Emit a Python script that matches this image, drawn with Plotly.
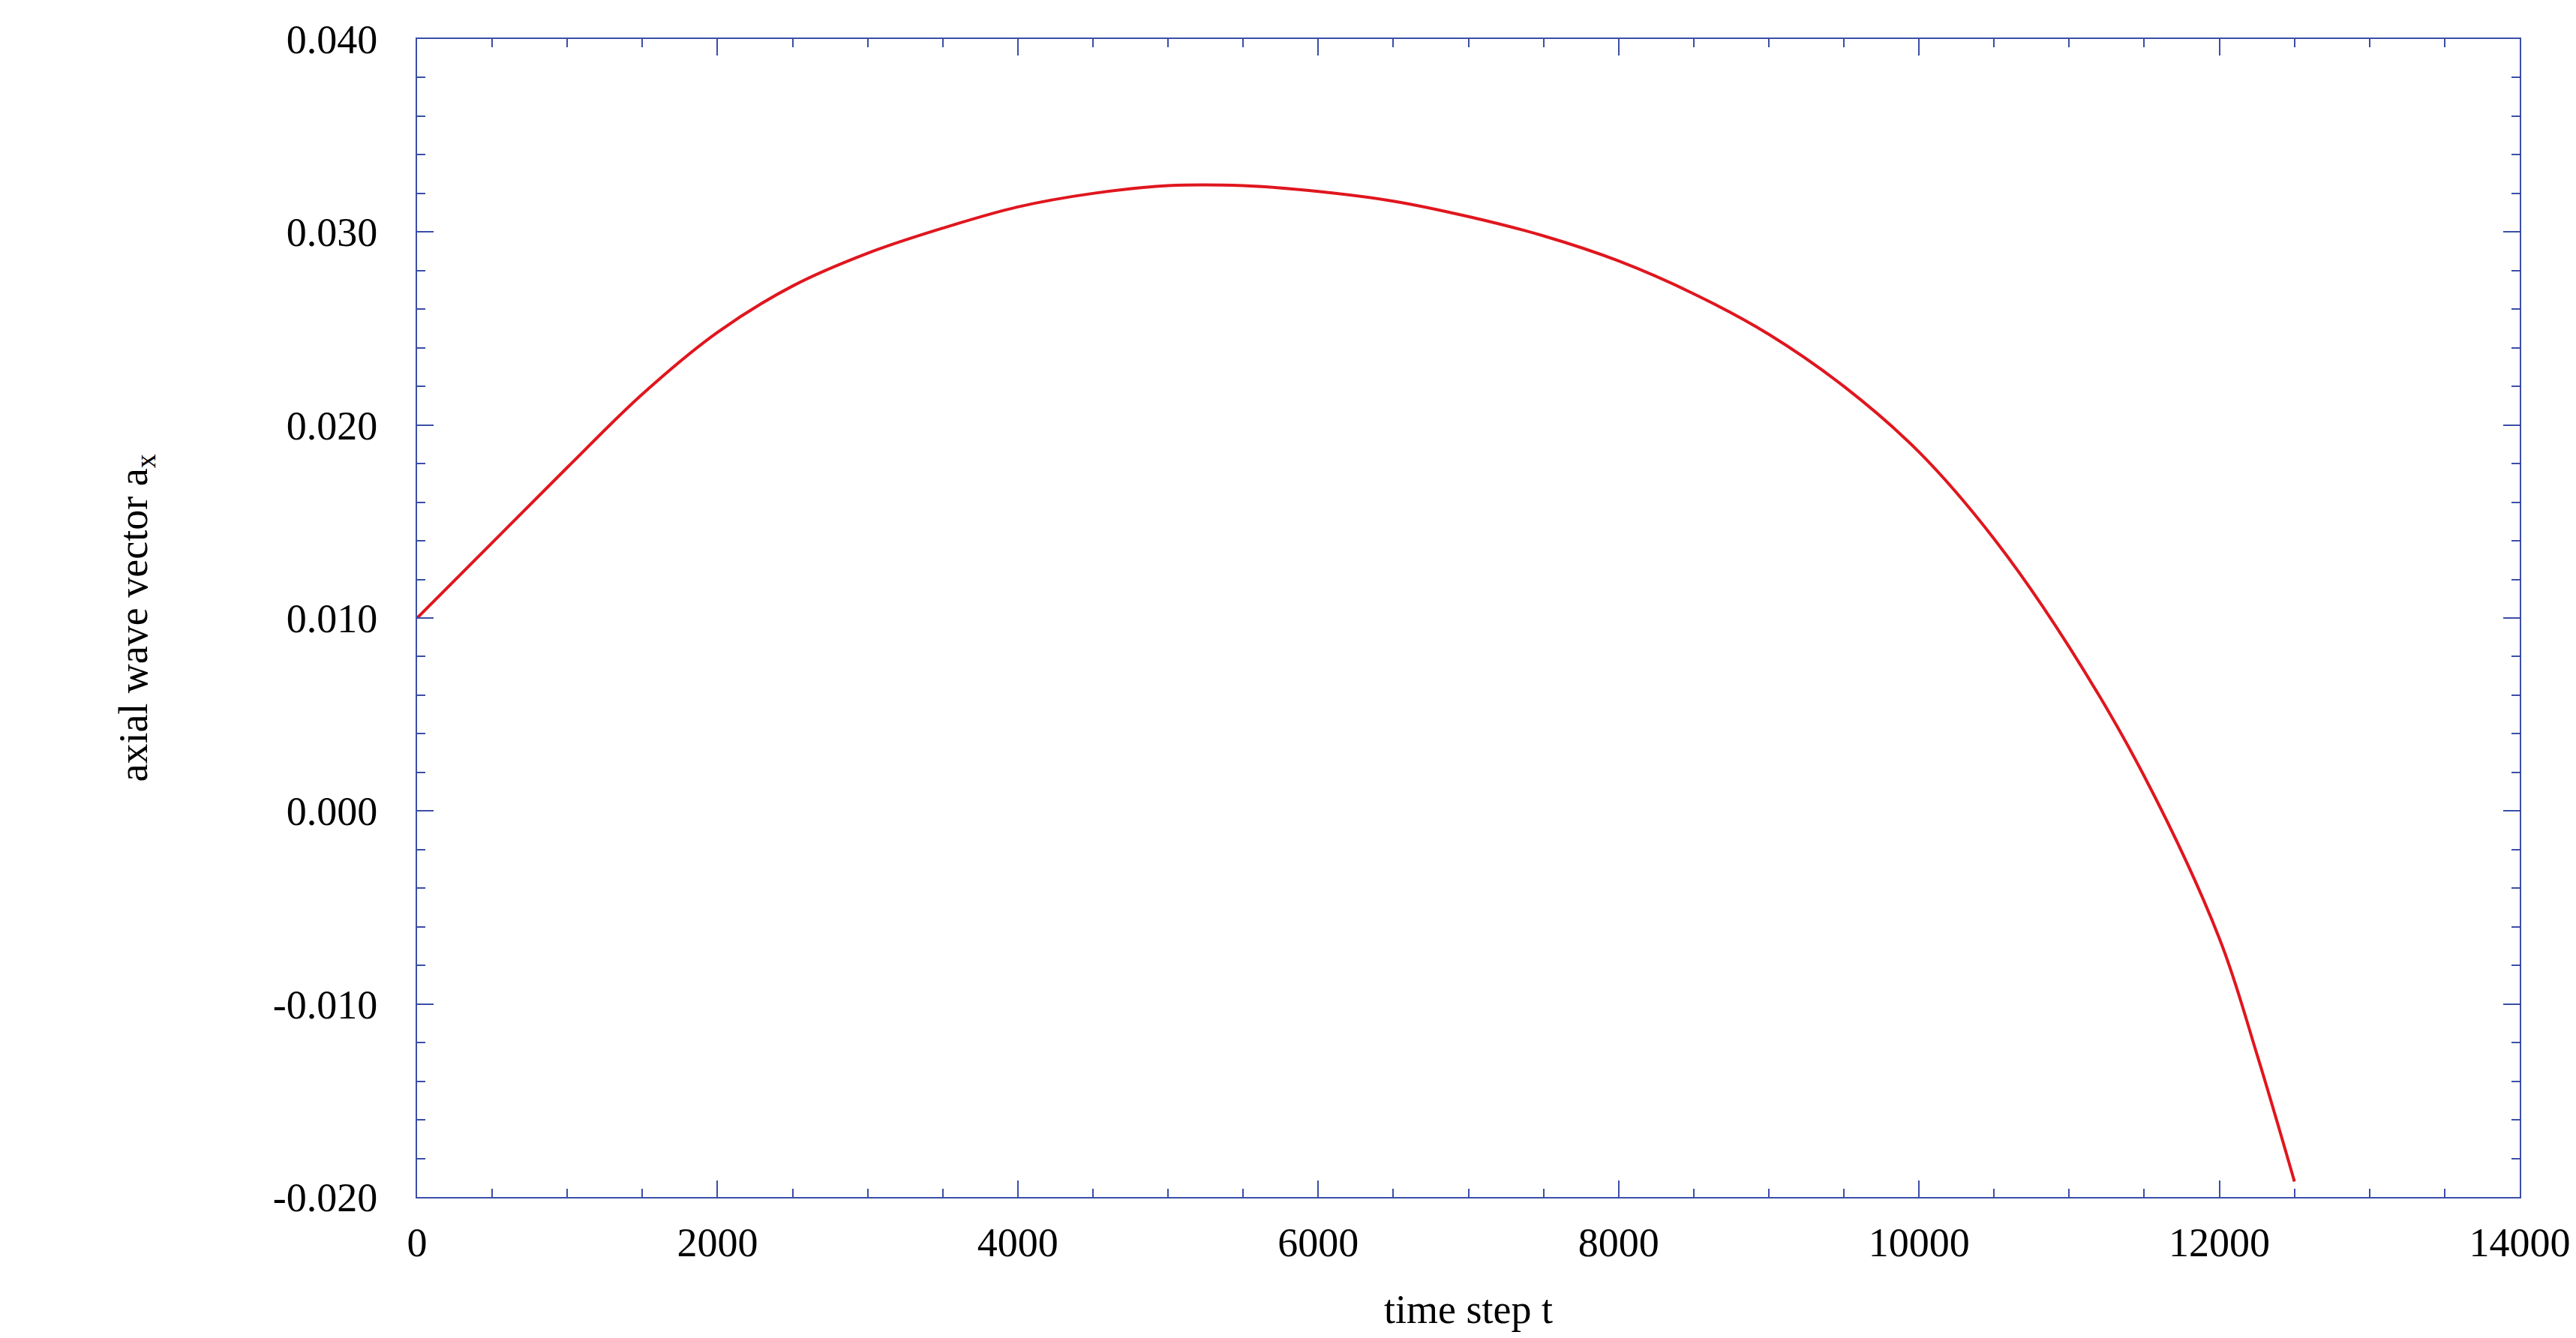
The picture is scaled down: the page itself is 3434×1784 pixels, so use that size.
import plotly.graph_objects as go

# values
t = [0, 500, 1000, 1500, 2000, 2500, 3000, 3500, 4000, 4500, 5000, 5500, 6000,
     6500, 7000, 7500, 8000, 8500, 9000, 9500, 10000, 10500, 11000, 11500,
     12000, 12250, 12500]
ax = [0.0100, 0.0139, 0.0178, 0.0216, 0.0248, 0.0272, 0.0289, 0.0302, 0.0313,
      0.0320, 0.0324, 0.0324, 0.0321, 0.0316, 0.0308, 0.0298, 0.0285, 0.0268,
      0.0247, 0.0220, 0.0186, 0.0141, 0.0085, 0.0018, -0.0066, -0.0126, -0.0192]

xticks = [0, 2000, 4000, 6000, 8000, 10000, 12000, 14000]
xlabels = [str(v) for v in xticks]
yticks = [-0.02, -0.01, 0.0, 0.01, 0.02, 0.03, 0.04]
ylabels = ["-0.020", "-0.010", "0.000", "0.010", "0.020", "0.030", "0.040"]

axis_col = "#3b4ea6"
font = dict(family="Liberation Serif", size=54, color="black")

fig = go.Figure(go.Scatter(x=t, y=ax, mode="lines",
                           line=dict(color="#e0161e", width=4, shape="spline",
                                     smoothing=1.0)))

common = dict(showgrid=False, zeroline=False, showline=True, linecolor=axis_col,
              linewidth=2, mirror="allticks", ticks="inside", ticklen=22,
              tickcolor=axis_col, tickwidth=2, tickfont=font)

fig.update_xaxes(range=[0, 14000], tickvals=xticks, ticktext=xlabels,
                 ticklabelstandoff=12,
                 minor=dict(dtick=500, ticks="inside", ticklen=11,
                            tickcolor=axis_col, tickwidth=2),
                 title=dict(text="time step t", font=font, standoff=40), **common)
fig.update_yaxes(range=[-0.02, 0.04], tickvals=yticks, ticktext=ylabels,
                 ticklabelstandoff=40,
                 minor=dict(dtick=0.002, ticks="inside", ticklen=11,
                            tickcolor=axis_col, tickwidth=2),
                 title=dict(text="axial wave vector a<sub>x</sub>", font=font, standoff=150),
                 **common)

fig.update_layout(width=3434, height=1784, plot_bgcolor="white", paper_bgcolor="white",
                  margin=dict(l=548, r=83, t=44, b=196), showlegend=False)

fig.write_html("out.html")
